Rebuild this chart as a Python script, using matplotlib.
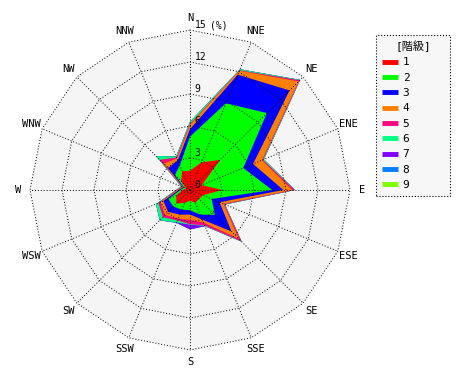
import numpy as np
import matplotlib
matplotlib.use("Agg")
import matplotlib.pyplot as plt
from matplotlib.lines import Line2D

plt.rcParams['font.family'] = ['DejaVu Sans Mono', 'Noto Sans CJK JP']

directions = ["N", "NNE", "NE", "ENE", "E", "ESE", "SE", "SSE",
              "S", "SSW", "SW", "WSW", "W", "WNW", "NW", "NNW"]

# frequency (%) of each class per direction
class1 = [1.8, 2.8, 4.0, 1.2, 3.0, 1.3, 1.2, 1.3, 1.0, 1.3, 1.8, 1.4, 0.7, 0.4, 1.2, 1.9]
class2 = [3.2, 6.0, 6.2, 4.2, 4.7, 0.9, 2.1, 1.2, 0.9, 0.7, 0.4, 0.8, 0.2, 0.2, 0.8, 0.6]
class3 = [0.7, 2.9, 3.0, 1.0, 1.05, 0.8, 2.2, 0.5, 0.4, 0.5, 0.7, 0.5, 0.15, 0.1, 0.9, 0.5]
class4 = [0.4, 0.4, 1.2, 0.9, 0.85, 0.4, 1.0, 0.3, 0.5, 0.4, 0.4, 0.3, 0.1, 0.1, 0.6, 0.2]
class5 = [0.1, 0.05, 0.15, 0.1, 0.2, 0.1, 0.3, 0.3, 0.4, 0.2, 0.3, 0.2, 0.1, 0.05, 0.5, 0.1]
class6 = [0.2, 0.1, 0.05, 0.1, 0.05, 0.05, 0.05, 0.05, 0.05, 0.2, 0.4, 0.25, 0.05, 0.05, 0.5, 0.1]
class7 = [0, 0, 0, 0, 0, 0, 0, 0.02, 0.45, 0.03, 0.02, 0, 0, 0, 0, 0]
class8 = [0, 0, 0, 0, 0, 0, 0, 0, 0, 0, 0, 0, 0, 0, 0, 0]
class9 = [0, 0, 0, 0, 0, 0, 0, 0, 0, 0, 0, 0, 0, 0, 0, 0]

class_labels = ["1", "2", "3", "4", "5", "6", "7", "8", "9"]
colors = ["#ff0000", "#00ff00", "#0000ff", "#ff8000", "#ff0080",
          "#00ff80", "#8000ff", "#0080ff", "#80ff00"]
rings = [3, 6, 9, 12, 15]

classes = np.array([class1, class2, class3, class4, class5,
                    class6, class7, class8, class9])
cum = np.cumsum(classes, axis=0)

theta = np.deg2rad(np.arange(16) * 22.5)
sx, cy = np.sin(theta), np.cos(theta)

def poly(r):
    r = np.asarray(r) * np.ones(16)
    return np.append(r * sx, r[0] * sx[0]), np.append(r * cy, r[0] * cy[0])

fig = plt.figure(figsize=(4.7, 3.8), dpi=100)
ax = fig.add_axes([0, 0, 1, 1])
k = 160 / 15
ax.set_xlim(-190 / k, 280 / k)
ax.set_ylim(-190 / k, 190 / k)
ax.axis('off')

# background
bx, by = poly(15)
ax.fill(bx, by, color='#f5f5f5', lw=0, zorder=0)

# stacked areas, outermost first
for i in range(8, -1, -1):
    px, py = poly(cum[i])
    ax.fill(px, py, color=colors[i], lw=0, zorder=1)

# grid
dots = (0, (1, 2))
for r in rings:
    gx, gy = poly(r)
    ax.plot(gx, gy, color='black', lw=0.7, ls=dots, zorder=3)
for j in range(16):
    ax.plot([0, 15 * sx[j]], [0, 15 * cy[j]], color='black', lw=0.7, ls=dots, zorder=3)

for r in [0] + rings:
    ax.text(0.45, r, str(r), fontsize=7, ha='left', va='bottom', zorder=4)
ax.text(1.9, 15, "(%)", fontsize=7, ha='left', va='bottom', zorder=4)

for j, d in enumerate(directions):
    ax.text(16.1 * sx[j], 16.1 * cy[j], d, fontsize=7.5, ha='center', va='center')

handles = [Line2D([], [], color=c, lw=3.5, solid_capstyle='butt') for c in colors]
leg = ax.legend(handles, class_labels, title='[階級]', loc='upper left',
                bbox_to_anchor=(376 / 470, 35 / 380, 74 / 470, 1 - 70 / 380),
                bbox_transform=fig.transFigure, mode='expand',
                borderaxespad=0, fontsize=8, title_fontsize=8,
                handlelength=1.5, handletextpad=0.4, labelspacing=0.48,
                borderpad=0.5, fancybox=False, framealpha=1,
                facecolor='#f7f7f7', edgecolor='black')
leg.get_frame().set_linestyle(':')
leg.get_frame().set_linewidth(0.8)

fig.savefig("out.png", dpi=100)
